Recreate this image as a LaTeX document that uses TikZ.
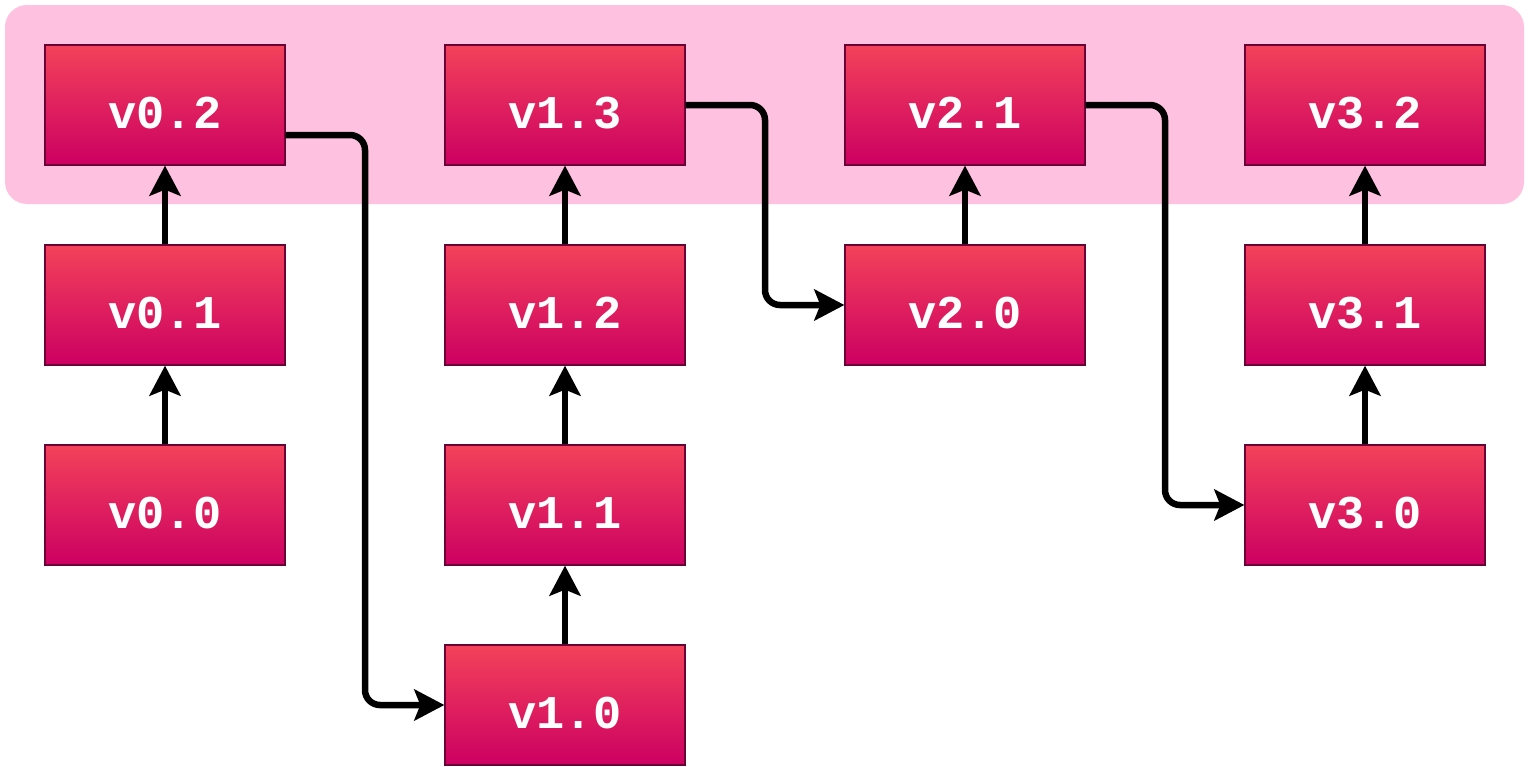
\documentclass[tikz,border=0pt]{standalone}
\usepackage{fontspec}
\newfontfamily\boxfont{Liberation Mono}
\usetikzlibrary{arrows.meta}
\definecolor{bgpink}{HTML}{FFC1E0}
\definecolor{topred}{HTML}{F3425A}
\definecolor{botred}{HTML}{CC0062}
\definecolor{edgeplum}{HTML}{6A0036}
\tikzset{
  vbox/.style={rectangle, draw=edgeplum, line width=1.3pt, top color=topred, bottom color=botred,
    minimum width=240pt, minimum height=120pt, inner sep=0pt, text=white,
    font=\boxfont\bfseries\fontsize{47}{47}\selectfont},
  link/.style={line width=6.5pt, rounded corners=15pt, -{Stealth[length=30pt,width=31pt,inset=6pt]}}
}
\newcommand{\vlab}[1]{\raisebox{-8pt}[\height][0pt]{#1}}
\begin{document}
\begin{tikzpicture}[x=1pt,y=-1pt]
\useasboundingbox (0,0) rectangle (1528,766);
\fill[bgpink, rounded corners=22pt] (5,5) rectangle (1524,204);
\node[vbox] (v02) at (165,105) {\vlab{v0.2}};
\node[vbox] (v01) at (165,305) {\vlab{v0.1}};
\node[vbox] (v00) at (165,505) {\vlab{v0.0}};
\node[vbox] (v13) at (565,105) {\vlab{v1.3}};
\node[vbox] (v12) at (565,305) {\vlab{v1.2}};
\node[vbox] (v11) at (565,505) {\vlab{v1.1}};
\node[vbox] (v10) at (565,705) {\vlab{v1.0}};
\node[vbox] (v21) at (965,105) {\vlab{v2.1}};
\node[vbox] (v20) at (965,305) {\vlab{v2.0}};
\node[vbox] (v32) at (1365,105) {\vlab{v3.2}};
\node[vbox] (v31) at (1365,305) {\vlab{v3.1}};
\node[vbox] (v30) at (1365,505) {\vlab{v3.0}};
\coordinate (c0) at (365,135);
\coordinate (c1) at (765,105);
\coordinate (c2) at (1165,105);
\draw[link] (v00) -- (v01);
\draw[link] (v01) -- (v02);
\draw[link] (v10) -- (v11);
\draw[link] (v11) -- (v12);
\draw[link] (v12) -- (v13);
\draw[link] (v20) -- (v21);
\draw[link] (v30) -- (v31);
\draw[link] (v31) -- (v32);
\draw[link] (v02.east |- c0) -- (c0) |- (v10.west);
\draw[link] (v13.east) -- (c1) |- (v20.west);
\draw[link] (v21.east) -- (c2) |- (v30.west);
\end{tikzpicture}
\end{document}
